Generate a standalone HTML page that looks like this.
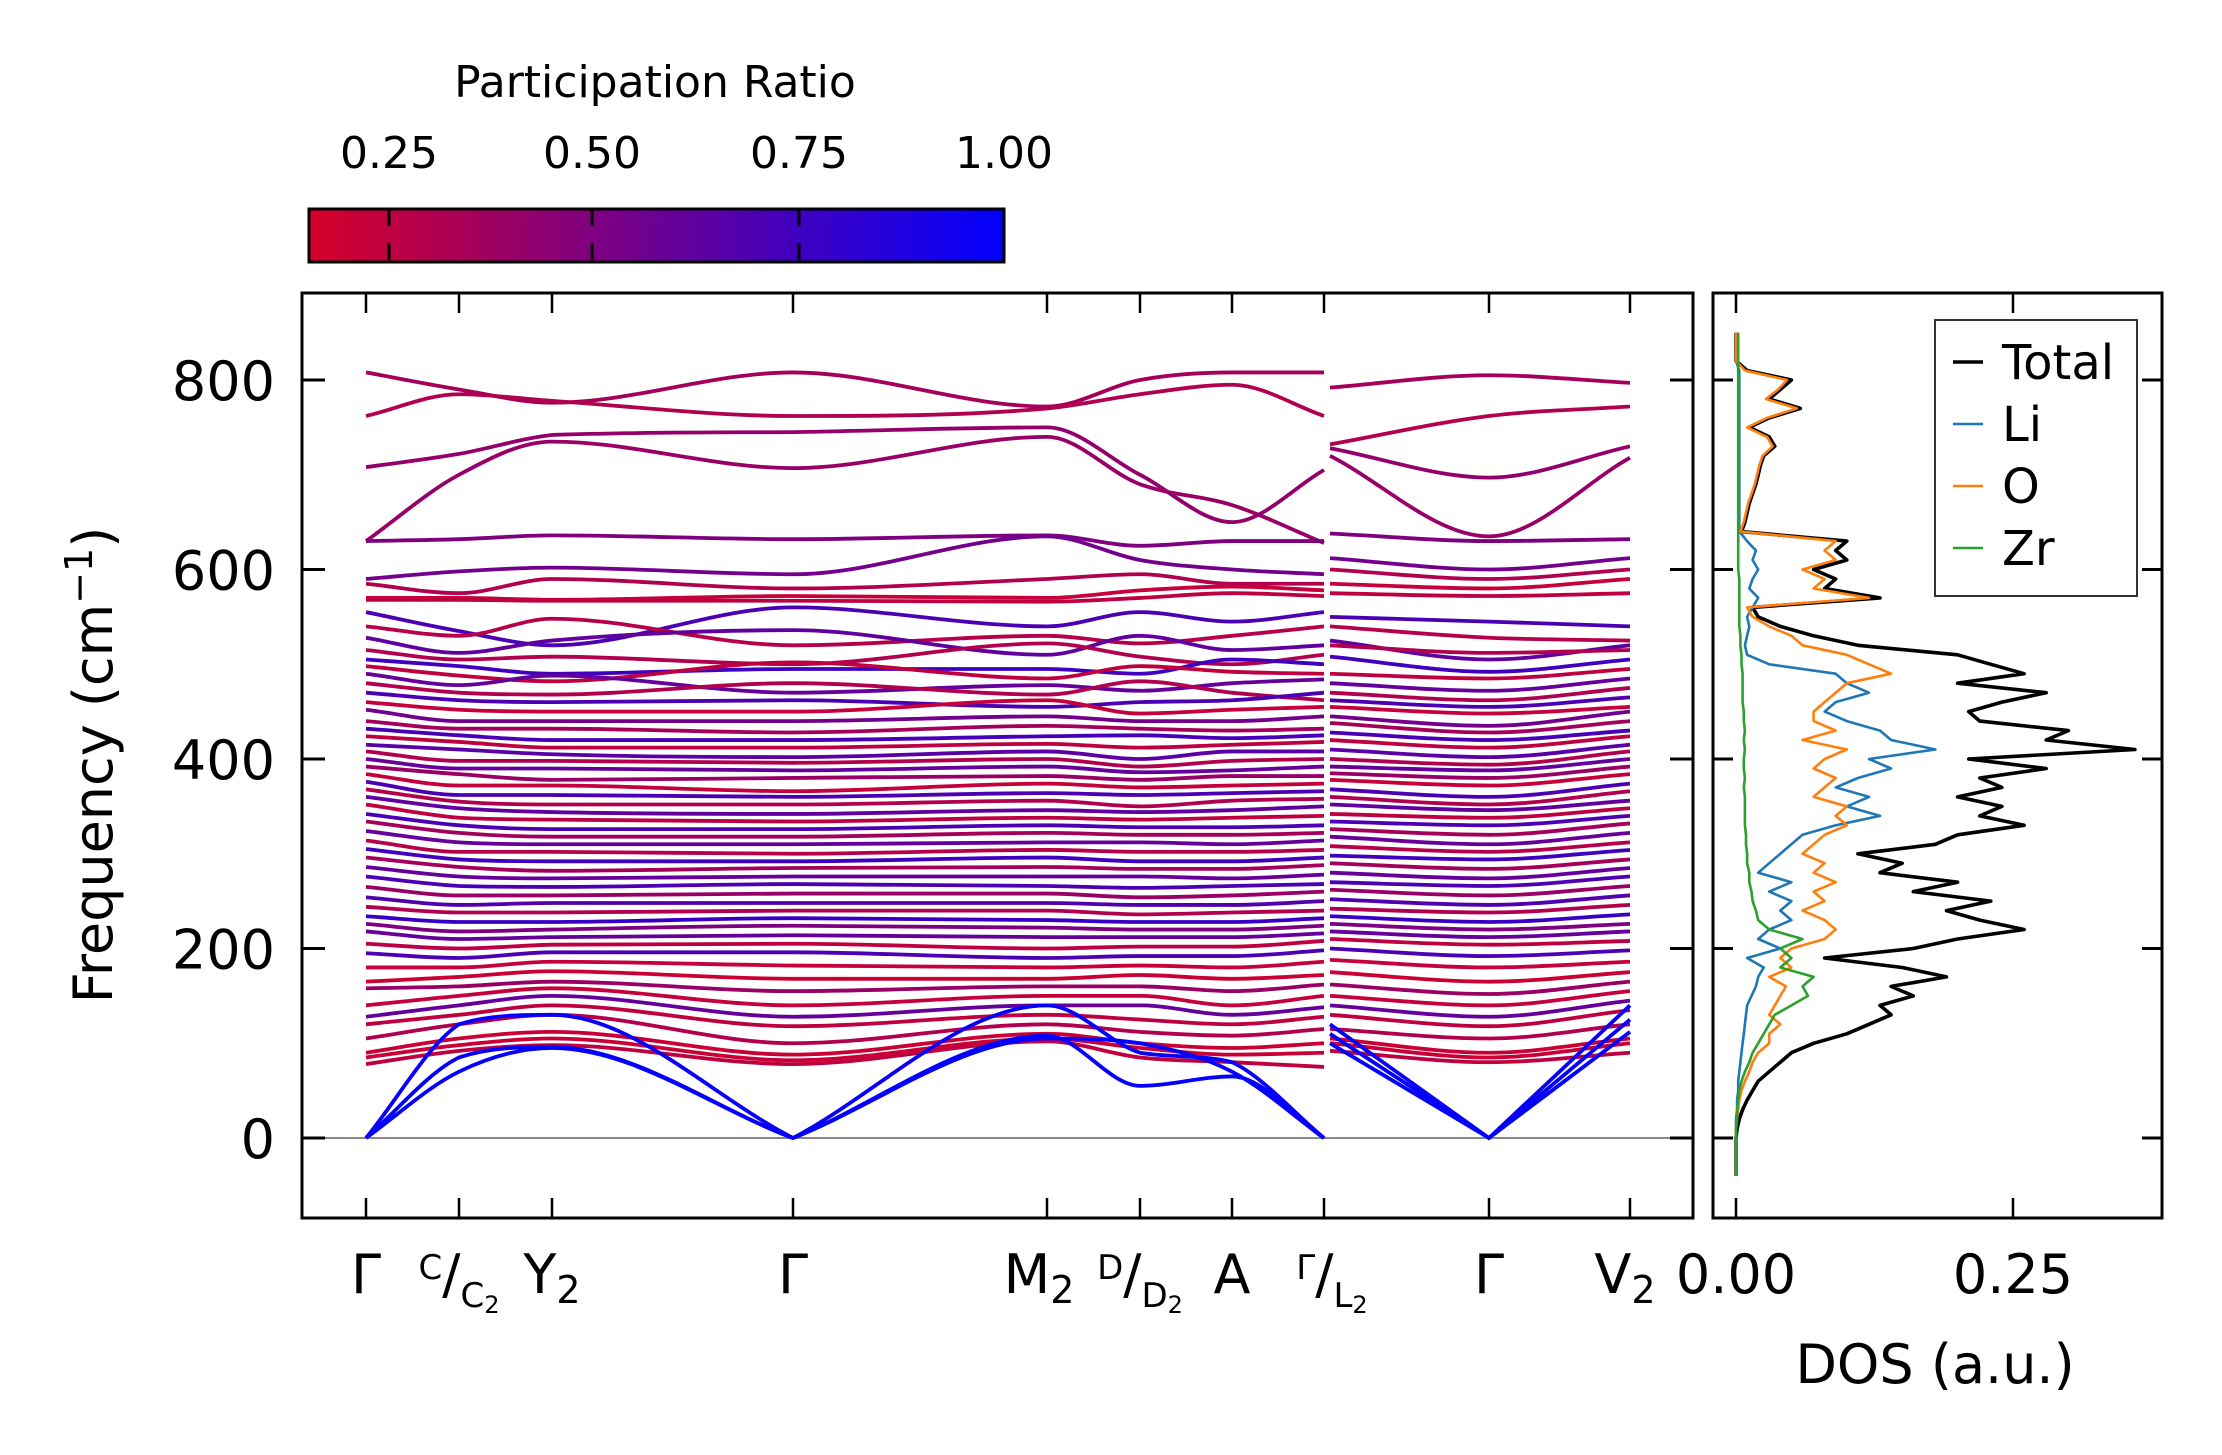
<!DOCTYPE html>
<html><head><meta charset="utf-8"><style>
html,body{margin:0;padding:0;background:#fff;}
svg{display:block;font-family:"DejaVu Sans","Liberation Sans",sans-serif;}
</style></head><body>
<svg id="fig" width="2222" height="1455" viewBox="0 0 2222 1455" xmlns="http://www.w3.org/2000/svg">
<defs>
<linearGradient id="cmap" x1="0" x2="1" y1="0" y2="0">
<stop offset="0" stop-color="rgb(215,0,40)"/><stop offset="1" stop-color="rgb(0,0,255)"/>
</linearGradient>
<clipPath id="mainclip"><rect x="302" y="293" width="1391" height="925"/></clipPath>
<clipPath id="dosclip"><rect x="1713" y="293" width="449" height="925"/></clipPath>
</defs>
<text x="655" y="97" font-size="44" text-anchor="middle">Participation Ratio</text>
<g font-size="44" text-anchor="middle">
<text x="389" y="168">0.25</text><text x="592" y="168">0.50</text><text x="799" y="168">0.75</text><text x="1004" y="168">1.00</text>
</g>
<rect x="309" y="209" width="695" height="53" fill="url(#cmap)" stroke="#000" stroke-width="3"/>
<g stroke="#000" stroke-width="3" stroke-dasharray="17 17">
<line x1="389" y1="209" x2="389" y2="262"/><line x1="592" y1="209" x2="592" y2="262"/><line x1="799" y1="209" x2="799" y2="262"/>
</g>
<g id="main"></g>
<g id="dos"></g>
</svg>
<script>
const NS="http://www.w3.org/2000/svg";
const kLabels=["Γ","C/C2","Y2","Γ","M2","D/D2","A","Γ/L2","","Γ","V2"];
const kPos=[0,93,186,427,681,774,866,958,964,1123,1264];
const yTicks=[0,200,400,600,800];
const bands=[
[808,790,776,808,772,800,808,808,792,805,797],
[762,785,778,762,770,785,795,762,732,762,772],
[708,722,742,745,750,700,650,705,728,697,730],
[630,700,735,707,740,690,668,628,720,635,718],
[630,632,636,632,636,625,630,630,638,630,632],
[590,598,602,595,635,610,600,595,612,600,612],
[585,575,590,580,590,595,585,585,600,590,600],
[570,570,568,572,570,578,582,578,585,580,590],
[568,568,567,567,566,570,575,572,575,572,575],
[555,535,520,560,540,555,545,555,550,545,540],
[540,530,548,520,530,522,530,540,540,528,525],
[528,512,525,536,510,530,515,520,525,505,520],
[515,505,508,500,522,508,500,510,520,512,515],
[505,498,490,495,495,490,505,500,508,492,505],
[498,488,482,502,485,498,492,490,490,485,495],
[490,478,488,470,478,472,480,484,480,472,485],
[480,470,468,480,468,482,470,462,470,462,475],
[470,462,460,462,455,460,462,470,462,455,465],
[460,452,450,450,462,448,452,455,455,448,455],
[452,440,440,440,445,440,440,445,445,435,450],
[440,432,432,428,435,432,430,432,438,428,440],
[432,425,420,420,424,425,422,425,428,420,430],
[424,418,412,412,416,412,415,418,420,412,424],
[415,410,405,402,408,400,408,408,410,402,415],
[408,398,398,396,400,392,398,400,400,394,408],
[400,390,390,388,392,386,388,392,392,388,400],
[392,384,378,380,382,378,382,382,385,380,392],
[384,372,372,366,374,370,372,374,378,372,384],
[376,362,362,360,364,362,364,366,368,360,374],
[368,355,352,352,356,350,356,358,360,352,366],
[360,348,344,342,346,344,346,350,352,346,356],
[352,338,336,334,338,336,338,340,342,338,348],
[342,330,326,326,330,328,328,330,334,330,340],
[334,322,318,318,322,320,320,322,326,320,332],
[324,312,310,310,312,312,310,314,318,310,322],
[314,302,302,300,304,302,302,304,308,302,312],
[305,294,292,292,296,292,292,296,298,294,304],
[296,286,282,285,286,284,284,288,290,284,294],
[286,276,274,276,276,276,274,278,280,274,285],
[276,266,265,268,266,264,266,268,270,266,276],
[265,256,256,258,258,254,256,260,262,256,266],
[254,246,248,248,248,246,246,250,252,246,256],
[244,238,238,240,240,236,238,240,242,238,246],
[234,228,228,232,230,228,228,232,234,228,236],
[226,218,220,224,222,220,220,224,226,220,226],
[218,210,212,214,212,212,212,216,218,212,218],
[205,200,204,205,200,202,202,208,210,204,208],
[195,190,196,196,190,192,192,198,200,192,198],
[180,180,186,182,180,182,180,186,188,180,186],
[165,170,176,168,168,172,168,172,175,165,175],
[158,160,165,155,160,160,155,162,162,152,165],
[140,150,158,140,150,150,140,150,150,140,155],
[128,140,150,128,140,140,130,138,140,128,145],
[120,130,140,118,130,125,120,128,130,118,135],
[105,120,130,100,120,112,108,115,115,105,120],
[90,105,112,88,110,100,95,100,105,90,105],
[85,98,105,82,105,95,88,90,100,85,100],
[78,92,98,78,102,85,80,75,92,80,90],
[0,120,130,0,140,90,80,0,120,0,140],
[0,85,96,0,108,55,65,0,110,0,125],
[0,70,95,0,105,100,70,0,100,0,112]
];
const pr=[0.35,0.3,0.42,0.4,0.5,0.55,0.3,0.22,0.25,0.7,0.28,0.62,0.3,0.75,0.25,0.6,0.3,0.7,0.22,0.55,0.35,0.72,0.25,0.65,0.3,0.6,0.4,0.22,0.7,0.3,0.62,0.25,0.7,0.35,0.6,0.28,0.75,0.35,0.6,0.7,0.4,0.68,0.3,0.78,0.5,0.6,0.25,0.7,0.22,0.2,0.4,0.22,0.6,0.25,0.3,0.2,0.2,0.25,0.97,0.98,0.99];
const dosFreq=[];for(let f=-40;f<=850;f+=10)dosFreq.push(f);
const dosTotal=[0,0,0,0,0,0.001,0.003,0.006,0.01,0.015,0.02,0.03,0.04,0.05,0.07,0.1,0.12,0.14,0.13,0.16,0.14,0.19,0.15,0.08,0.16,0.2,0.26,0.22,0.19,0.23,0.16,0.2,0.13,0.15,0.11,0.18,0.2,0.26,0.22,0.24,0.2,0.24,0.22,0.28,0.21,0.36,0.28,0.3,0.22,0.21,0.24,0.28,0.2,0.26,0.23,0.2,0.11,0.07,0.04,0.02,0.015,0.13,0.08,0.09,0.07,0.1,0.09,0.1,0.005,0.008,0.01,0.012,0.015,0.018,0.02,0.022,0.025,0.035,0.03,0.012,0.03,0.058,0.03,0.04,0.05,0.01,0,0,0,0];
const dosLi=[0,0,0,0,0,0,0,0.001,0.001,0.002,0.002,0.003,0.004,0.005,0.006,0.007,0.008,0.009,0.01,0.014,0.018,0.02,0.025,0.01,0.04,0.02,0.03,0.05,0.04,0.05,0.03,0.05,0.02,0.03,0.04,0.05,0.06,0.09,0.13,0.1,0.12,0.09,0.11,0.14,0.12,0.18,0.14,0.13,0.1,0.08,0.09,0.12,0.1,0.09,0.03,0.01,0.008,0.01,0.012,0.01,0.015,0.02,0.012,0.015,0.02,0.015,0.018,0.01,0.003,0.003,0.003,0.003,0.003,0.003,0.003,0.003,0.003,0.003,0.003,0.003,0.003,0.003,0.003,0.003,0.003,0.003,0,0,0,0];
const dosO=[0,0,0,0,0,0,0.001,0.002,0.003,0.005,0.008,0.012,0.015,0.02,0.03,0.03,0.04,0.03,0.035,0.04,0.045,0.03,0.05,0.04,0.05,0.08,0.09,0.08,0.06,0.08,0.07,0.09,0.07,0.08,0.06,0.07,0.08,0.1,0.09,0.1,0.07,0.08,0.09,0.07,0.08,0.1,0.06,0.09,0.07,0.07,0.08,0.09,0.1,0.14,0.12,0.1,0.06,0.05,0.03,0.015,0.01,0.12,0.07,0.08,0.06,0.09,0.08,0.09,0.004,0.007,0.009,0.011,0.014,0.017,0.019,0.021,0.024,0.033,0.028,0.01,0.028,0.055,0.027,0.038,0.046,0.008,0,0,0,0];
const dosZr=[0,0,0,0,0,0,0.001,0.001,0.002,0.003,0.005,0.008,0.012,0.015,0.02,0.025,0.03,0.035,0.05,0.065,0.06,0.07,0.04,0.05,0.04,0.06,0.03,0.02,0.018,0.015,0.014,0.012,0.012,0.01,0.01,0.009,0.009,0.008,0.008,0.008,0.008,0.007,0.008,0.007,0.007,0.008,0.007,0.008,0.007,0.007,0.006,0.006,0.006,0.006,0.005,0.005,0.004,0.004,0.003,0.003,0.003,0.003,0.003,0.003,0.002,0.002,0.002,0.002,0.002,0.002,0.002,0.002,0.002,0.002,0.002,0.002,0.002,0.002,0.002,0.002,0.002,0.002,0.002,0.002,0.002,0.002,0.002,0.002,0.002,0.002];
const dosTicks=[0,0.25];

const X0=366,yZero=1138,yPer=0.9475;
const xK=k=>X0+k;
const yF=f=>yZero-f*yPer;
const xD=v=>1736+v*1108;
const main=document.getElementById('main');
const dos=document.getElementById('dos');
function mk(tag,attrs,parent){const e=document.createElementNS(NS,tag);for(const a in attrs)e.setAttribute(a,attrs[a]);parent.appendChild(e);return e;}
function color(p){const t=Math.max(0,Math.min(1,(p-0.15)/0.85));return `rgb(${Math.round(215*(1-t))},0,${Math.round(40+215*t)})`;}
function monoPath(xs,ys,vals){
  const n=xs.length;const d=[],mL=[],mR=[];
  for(let i=0;i<n-1;i++)d.push((ys[i+1]-ys[i])/(xs[i+1]-xs[i]));
  for(let i=0;i<n;i++){
    if(i===0){mL.push(d[0]);mR.push(d[0]);}
    else if(i===n-1){mL.push(d[n-2]);mR.push(d[n-2]);}
    else if(vals[i]===0){mL.push(d[i-1]);mR.push(d[i]);}
    else{const m=d[i-1]*d[i]<=0?0:(d[i-1]+d[i])/2;mL.push(m);mR.push(m);}
  }
  let p=`M${xs[0]},${ys[0]}`;
  for(let i=0;i<n-1;i++){const h=(xs[i+1]-xs[i])/3;
    let a=mR[i],b=mL[i+1];
    if(vals[i]!==0&&vals[i+1]!==0&&d[i]!==0){const ra=a/d[i],rb=b/d[i],s=ra*ra+rb*rb;if(s>9){const t=3/Math.sqrt(s);a=t*ra*d[i];b=t*rb*d[i];}}
    if(d[i]===0){a=0;b=0;}
    p+=`C${xs[i]+h},${ys[i]+a*h} ${xs[i+1]-h},${ys[i+1]-b*h} ${xs[i+1]},${ys[i+1]}`;}
  return p;
}
const zl=mk('line',{x1:302,x2:1693,y1:yF(0),y2:yF(0),stroke:'#888',"stroke-width":2},main);


const bg=mk('g',{"clip-path":"url(#mainclip)"},main);
bands.forEach((b,i)=>{
  [[0,7],[8,10]].forEach(([a,c])=>{
    const xs=[],ys=[],vs=[];
    for(let j=a;j<=c;j++){xs.push(xK(kPos[j]));ys.push(yF(b[j]));vs.push(b[j]);}
    const p=mk('path',{d:monoPath(xs,ys,vs),fill:'none',stroke:color(pr[i]),"stroke-width":3.8},bg);
    
    
  });
});
const fr=mk('rect',{x:302,y:293,width:1391,height:925,fill:'none',stroke:'#000',"stroke-width":3},main);


kPos.forEach((k,i)=>{
  if(i===8)return;
  mk('line',{x1:xK(k),x2:xK(k),y1:1218,y2:1198,stroke:'#000',"stroke-width":2.5},main);
  mk('line',{x1:xK(k),x2:xK(k),y1:293,y2:313,stroke:'#000',"stroke-width":2.5},main);
});
yTicks.forEach(t=>{
  mk('line',{x1:302,x2:325,y1:yF(t),y2:yF(t),stroke:'#000',"stroke-width":3},main);
  mk('line',{x1:1693,x2:1670,y1:yF(t),y2:yF(t),stroke:'#000',"stroke-width":3},main);
  const tl=mk('text',{x:275,y:yF(t)+20,"font-size":54,"text-anchor":"end"},main);
  tl.textContent=t;
  
  
  mk('line',{x1:1713,x2:1733,y1:yF(t),y2:yF(t),stroke:'#000',"stroke-width":3},dos);
  mk('line',{x1:2162,x2:2142,y1:yF(t),y2:yF(t),stroke:'#000',"stroke-width":3},dos);
});
const xl=mk('g',{"font-size":54,"text-anchor":"middle"},main);


function simple(x,t,sub){const e=mk('text',{x:x,y:1293},xl);e.textContent=t;if(sub){const s=mk('tspan',{"font-size":38,dy:10},e);s.textContent=sub;}}
function frac(x,top,bot){const e=mk('text',{x:x,y:1293},xl);
  const a=mk('tspan',{"font-size":34,dy:-14},e);a.textContent=top;
  const b=mk('tspan',{dy:14},e);b.textContent='/';
  const c=mk('tspan',{"font-size":34,dy:14},e);c.textContent=bot.slice(0,1);
  const d=mk('tspan',{"font-size":24,dy:6},e);d.textContent=bot.slice(1);}
simple(xK(kPos[0]),'Γ');frac(xK(kPos[1]),'C','C2');simple(xK(kPos[2]),'Y','2');simple(xK(kPos[3]),'Γ');
simple(xK(kPos[4])-8,'M','2');frac(xK(kPos[5]),'D','D2');simple(xK(kPos[6]),'A');frac(xK(kPos[7])+8,'Γ','L2');
simple(xK(kPos[9]),'Γ');simple(xK(kPos[10])-5,'V','2');
const yt=mk('text',{x:0,y:0,"font-size":54,"text-anchor":"middle",transform:"translate(112,765) rotate(-90)"},main);
yt.textContent='Frequency (cm';
const ys=mk('tspan',{"font-size":38,dy:-20},yt);ys.textContent='−1';
const ye=mk('tspan',{dy:20},yt);ye.textContent=')';



const dg=mk('g',{"clip-path":"url(#dosclip)"},dos);
const series=[[dosTotal,'#000',3.6,'dos-total'],[dosLi,'#1f77b4',2.6,'dos-li'],[dosO,'#ff7f0e',2.6,'dos-o'],[dosZr,'#2ca02c',2.6,'dos-zr']];
series.forEach(([arr,c,w,nm])=>{
  const pts=arr.map((v,i)=>`${xD(v).toFixed(1)},${yF(dosFreq[i]).toFixed(1)}`).join(' ');
  const pl=mk('polyline',{points:pts,fill:'none',stroke:c,"stroke-width":w,"stroke-linejoin":"round"},dg);
  
  
});
const df=mk('rect',{x:1713,y:293,width:449,height:925,fill:'none',stroke:'#000',"stroke-width":3},dos);


dosTicks.forEach(t=>{
  mk('line',{x1:xD(t),x2:xD(t),y1:1218,y2:1198,stroke:'#000',"stroke-width":2.5},dos);
  mk('line',{x1:xD(t),x2:xD(t),y1:293,y2:313,stroke:'#000',"stroke-width":2.5},dos);
  const l=mk('text',{x:xD(t),y:1293,"font-size":54,"text-anchor":"middle"},dos);
  l.textContent=t.toFixed(2);
  
  
});
const dt=mk('text',{x:1935,y:1383,"font-size":54,"text-anchor":"middle"},dos);
dt.textContent='DOS (a.u.)';


const lg=mk('g',{},dos);


mk('rect',{x:1935,y:320,width:202,height:276,fill:'#fff',stroke:'#333',"stroke-width":2},lg);
const legNames=['Total','Li','O','Zr'];
const legCols=['#000','#1f77b4','#ff7f0e','#2ca02c'];
legNames.forEach((n,i)=>{
  const y=362+i*62;
  const ln=mk('line',{x1:1953,x2:1983,y1:y,y2:y,stroke:legCols[i],"stroke-width":i?2.6:3.6},lg);
  
  
  const t=mk('text',{x:2002,y:y+17,"font-size":48},lg);
  t.textContent=n;
  
  
});
</script>
</body></html>
